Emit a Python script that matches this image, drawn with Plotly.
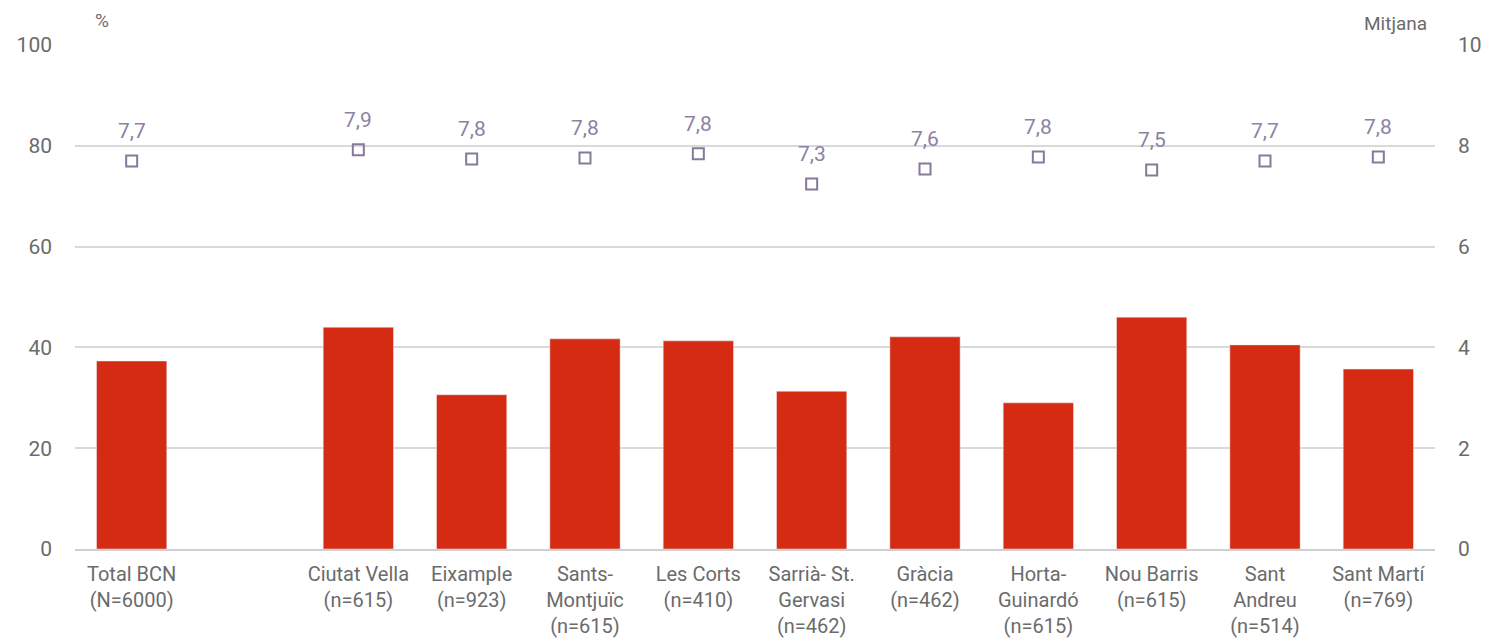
import plotly.graph_objects as go

categories = ["Total BCN<br>(N=6000)", " ", "Ciutat Vella<br>(n=615)", "Eixample<br>(n=923)",
              "Sants-<br>Montjuïc<br>(n=615)", "Les Corts<br>(n=410)", "Sarrià- St.<br>Gervasi<br>(n=462)",
              "Gràcia<br>(n=462)", "Horta-<br>Guinardó<br>(n=615)", "Nou Barris<br>(n=615)",
              "Sant<br>Andreu<br>(n=514)", "Sant Martí<br>(n=769)"]
pct_values = [37.3, None, 44.0, 30.6, 41.7, 41.3, 31.3, 42.1, 29.0, 46.0, 40.5, 35.7]
mean_values = [7.7, None, 7.92, 7.74, 7.76, 7.84, 7.24, 7.54, 7.78, 7.52, 7.70, 7.78]
mean_labels = ["7,7", "", "7,9", "7,8", "7,8", "7,8", "7,3", "7,6", "7,8", "7,5", "7,7", "7,8"]

FONT = "Roboto, Arial, sans-serif"
GREY = "#6b6b6b"
PURPLE = "#857a9c"

fig = go.Figure()
fig.add_trace(go.Bar(x=categories, y=pct_values, marker_color="#d52b12",
                     width=0.62, showlegend=False, hoverinfo="y"))
fig.add_trace(go.Scatter(x=categories, y=mean_values, yaxis="y2", mode="markers",
                         marker=dict(symbol="square-open", size=11, color=PURPLE,
                                     line=dict(width=2, color=PURPLE)),
                         showlegend=False, cliponaxis=False))

annotations = []
for cat, val, lab in zip(categories, mean_values, mean_labels):
    if val is None:
        continue
    annotations.append(dict(x=cat, y=val, xref="x", yref="y2", text=lab, showarrow=False,
                            yanchor="middle", xanchor="center", yshift=30,
                            font=dict(size=21, color="#8c82a3", family=FONT)))
annotations += [
    dict(text="%", xref="paper", yref="paper", x=0.0199, y=1.0, yshift=25,
         xanchor="center", yanchor="middle", showarrow=False,
         font=dict(size=19, color=GREY)),
    dict(text="Mitjana", xref="paper", yref="paper", x=0.9956, y=1.0, yshift=22,
         xanchor="right", yanchor="middle", showarrow=False,
         font=dict(size=19, color=GREY)),
]

fig.update_layout(
    width=1486, height=638,
    margin=dict(l=75, r=51, t=45, b=89),
    plot_bgcolor="white", paper_bgcolor="white",
    font=dict(family=FONT, size=20, color=GREY),
    xaxis=dict(type="category", range=[-0.5, len(categories) - 0.5],
               tickfont=dict(size=20, color=GREY), showgrid=False,
               showline=True, linecolor="#d0d0d0", linewidth=2, ticks="", ticklen=0,
               automargin=False, ticklabelstandoff=6),
    yaxis=dict(range=[0, 100], tickvals=[0, 20, 40, 60, 80, 100], showgrid=True,
               gridcolor="#d9d9d9", gridwidth=2, zeroline=False, ticks="",
               tickfont=dict(size=21, color=GREY), ticklabelstandoff=22, automargin=False),
    yaxis2=dict(range=[0, 10], tickvals=[0, 2, 4, 6, 8, 10], overlaying="y", side="right",
                showgrid=False, zeroline=False, ticks="", automargin=False,
                tickfont=dict(size=21, color=GREY), ticklabelstandoff=22),
    separators=",.",
    annotations=annotations,
)

fig.write_html("out.html", config={"displayModeBar": False},
               post_script="document.body.style.margin='0';document.body.style.overflow='hidden';")
